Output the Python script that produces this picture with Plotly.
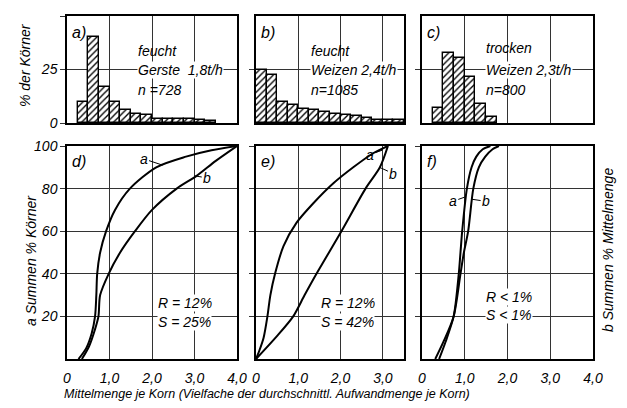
import plotly.graph_objects as go

# ---------------- data ----------------
bin_width = 0.25
# histograms (% der Körner), bins of 0.25 starting at given left edge
hist_a_start = 0.25
hist_a = [10, 40, 17, 10, 6, 4.4, 3.6, 2, 1.7, 1.7, 2, 1.5, 1]
hist_b_start = 0.0
hist_b = [25, 22.4, 9.8, 8.6, 6.7, 5.9, 5.1, 4.4, 3.6, 3.1, 2.5, 1.6, 1.6, 1.6]
hist_c_start = 0.25
hist_c = [7, 32.5, 30.5, 21.3, 9, 2.8]

# cumulative curves (Summen %)
d_a_x = [0.27, 0.45, 0.58, 0.66, 0.69, 0.71, 0.78, 0.92, 1.13, 1.48, 2.1, 2.8, 3.4, 4.0]
d_a_y = [0, 5, 12, 20, 30, 40, 50, 60, 70, 80, 90, 95, 98, 100]
d_b_x = [0.35, 0.52, 0.66, 0.74, 0.78, 0.98, 1.25, 1.6, 2.0, 2.58, 3.05, 3.5, 4.0]
d_b_y = [0, 6, 14, 20, 30, 40, 50, 60, 70, 80, 86, 93, 100]

e_a_x = [0, 0.08, 0.18, 0.27, 0.34, 0.45, 0.65, 0.96, 1.35, 1.83, 2.3, 2.77, 3.12]
e_a_y = [0, 4, 10, 20, 30, 40, 53, 64, 73, 82.5, 90, 96.6, 100]
e_b_x = [0, 0.49, 0.88, 1.15, 1.43, 2.02, 2.59, 2.93, 3.12]
e_b_y = [0, 10.6, 20, 30, 40, 60, 80, 90, 100]

f_a_x = [0.40, 0.55, 0.74, 0.86, 0.90, 0.94, 1.05, 1.16, 1.27, 1.42, 1.6]
f_a_y = [0, 8, 20, 40, 50, 60, 80, 90, 95, 98.5, 100]
f_b_x = [0.31, 0.50, 0.74, 0.90, 0.98, 1.08, 1.20, 1.33, 1.48, 1.65, 1.8]
f_b_y = [0, 8, 20, 40, 50, 60, 80, 90, 95, 98.5, 100]

x_tickvals = [0, 1, 2, 3, 4]
x_ticktext = ["0", "1,0", "2,0", "3,0", "4,0"]
y_top_tickvals = [0, 25, 50]
y_top_ticktext = ["0", "25", "50"]
y_bot_tickvals = [20, 40, 60, 80, 100]
y_bot_ticktext = ["20", "40", "60", "80", "100"]

panel_info_top = [
    ("a)", ["feucht", "Gerste  1,8t/h", "n =728"]),
    ("b)", ["feucht", "Weizen 2,4t/h", "n=1085"]),
    ("c)", ["trocken", "Weizen 2,3t/h", "n=800"]),
]
panel_info_bot = [
    ("d)", ["R = 12%", "S = 25%"]),
    ("e)", ["R = 12%", "S = 42%"]),
    ("f)", ["R < 1%", "S < 1%"]),
]

# ---------------- layout helpers ----------------
# the page body has an 8px default margin, so the figure is drawn 8px smaller
OFF = 8
W, H = 627 - OFF, 408 - OFF
FONT = "Liberation Sans, Arial, sans-serif"

def px_x(p):
    return (p - OFF) / W

def px_y(p):
    return 1 - (p - OFF) / H

col_px = [(67, 237, 4.0), (256, 404, 3.5), (422, 593, 4.0)]
top_px = (16, 123)
bot_px = (146, 359)

fig = go.Figure()

def bar_trace(start, heights, xa, ya):
    xs = [start + bin_width * (i + 0.5) for i in range(len(heights))]
    return go.Bar(
        x=xs, y=heights, width=bin_width, xaxis=xa, yaxis=ya,
        marker=dict(color="white",
                    line=dict(color="black", width=1.4),
                    pattern=dict(shape="/", fgcolor="black", bgcolor="white",
                                 size=4.5, solidity=0.3)),
        showlegend=False, hoverinfo="skip")

fig.add_trace(bar_trace(hist_a_start, hist_a, "x", "y"))
fig.add_trace(bar_trace(hist_b_start, hist_b, "x2", "y2"))
fig.add_trace(bar_trace(hist_c_start, hist_c, "x3", "y3"))

def curve(xs, ys, xa, ya):
    return go.Scatter(x=xs, y=ys, mode="lines", xaxis=xa, yaxis=ya,
                      line=dict(color="black", width=2, shape="spline", smoothing=0.8),
                      showlegend=False, hoverinfo="skip")

fig.add_trace(curve(d_a_x, d_a_y, "x4", "y4"))
fig.add_trace(curve(d_b_x, d_b_y, "x4", "y4"))
fig.add_trace(curve(e_a_x, e_a_y, "x5", "y5"))
fig.add_trace(curve(e_b_x, e_b_y, "x5", "y5"))
fig.add_trace(curve(f_a_x, f_a_y, "x6", "y6"))
fig.add_trace(curve(f_b_x, f_b_y, "x6", "y6"))

tickfont = dict(family=FONT, size=14, color="black", style="italic")
layout = dict(
    template="none",
    width=W, height=H, margin=dict(l=0, r=0, t=0, b=0, autoexpand=False),
    paper_bgcolor="white", plot_bgcolor="white",
    bargap=0, showlegend=False,
    font=dict(family=FONT, size=14, color="black", style="italic"),
)

axis_common = dict(showline=True, mirror=True, linecolor="black", linewidth=1.5,
                   gridcolor="#333333", gridwidth=1.2, zeroline=False,
                   tickfont=tickfont, fixedrange=True, automargin=False)

for i, (l, r, xmax) in enumerate(col_px):
    xn = "xaxis" if i == 0 else f"xaxis{i+1}"
    yn = "yaxis" if i == 0 else f"yaxis{i+1}"
    anchor_y = "y" if i == 0 else f"y{i+1}"
    anchor_x = "x" if i == 0 else f"x{i+1}"
    layout[xn] = dict(axis_common, domain=[px_x(l), px_x(r)], range=[0, xmax],
                      anchor=anchor_y, tickvals=[1, 2, 3], showticklabels=False,
                      ticks="", showgrid=True)
    layout[yn] = dict(axis_common, domain=[px_y(top_px[1]), px_y(top_px[0])],
                      range=[0, 50], anchor=anchor_x,
                      tickvals=y_top_tickvals if i == 0 else [25],
                      ticktext=y_top_ticktext if i == 0 else ["25"],
                      showticklabels=(i == 0), ticks="outside", ticklen=5,
                      tickcolor="#333333", showgrid=True)
    xn2 = f"xaxis{i+4}"
    yn2 = f"yaxis{i+4}"
    tv = [v for v in x_tickvals if v <= xmax]
    tt = [x_ticktext[k] for k, v in enumerate(x_tickvals) if v <= xmax]
    layout[xn2] = dict(axis_common, domain=[px_x(l), px_x(r)], range=[0, xmax],
                       anchor=f"y{i+4}", tickvals=tv, ticktext=tt, ticks="",
                       ticklabelstandoff=5, showgrid=True)
    layout[yn2] = dict(axis_common, domain=[px_y(bot_px[1]), px_y(bot_px[0])],
                       range=[0, 100], anchor=f"x{i+4}",
                       tickvals=y_bot_tickvals, ticktext=y_bot_ticktext,
                       showticklabels=(i == 0), ticks="outside", ticklen=5,
                       tickcolor="#333333", showgrid=True)

fig.update_layout(**layout)

ann = []
txtfont = dict(family=FONT, size=14, color="black", style="italic")
top_text_pos = [
    (1.65, [33.5, 24.8, 15.5]),
    (1.28, [33.5, 24.8, 15.5]),
    (1.47, [35, 24.8, 15.5]),
]
for i, (lbl, lines) in enumerate(panel_info_top):
    xa = "x" if i == 0 else f"x{i+1}"
    ya = "y" if i == 0 else f"y{i+1}"
    ann.append(dict(x=0.08, y=47, xref=xa, yref=ya, text=lbl, showarrow=False,
                    xanchor="left", yanchor="top", font=dict(txtfont, size=16)))
    x0, ys = top_text_pos[i]
    for j, t in enumerate(lines):
        ann.append(dict(x=x0, y=ys[j], xref=xa, yref=ya, text=t, showarrow=False,
                        xanchor="left", yanchor="middle", font=txtfont,
                        bgcolor="white" if j == 1 else None, borderpad=0))

bot_text_pos = [(2.12, [26.3, 17.4]), (1.51, [26.3, 17.4]), (1.47, [29, 20.7])]
for i, (lbl, lines) in enumerate(panel_info_bot):
    xa = f"x{i+4}"
    ya = f"y{i+4}"
    ann.append(dict(x=0.08, y=97.5, xref=xa, yref=ya, text=lbl, showarrow=False,
                    xanchor="left", yanchor="top", font=dict(txtfont, size=16)))
    x0, ys = bot_text_pos[i]
    for j, t in enumerate(lines):
        ann.append(dict(x=x0, y=ys[j], xref=xa, yref=ya, text=t, showarrow=False,
                        xanchor="left", yanchor="middle", font=txtfont,
                        bgcolor="white", borderpad=0))

curve_labels = [
    ("x4", "y4", "a", 1.8, 94, 2.25, 91),
    ("x4", "y4", "b", 3.3, 85, 3.0, 86),
    ("x5", "y5", "a", 2.7, 96, 2.98, 98),
    ("x5", "y5", "b", 3.25, 87, 2.92, 90),
    ("x6", "y6", "a", 0.72, 74, 1.0, 76),
    ("x6", "y6", "b", 1.5, 74, 1.17, 75),
]
for xa, ya, t, tx, ty, px, py in curve_labels:
    ann.append(dict(x=px, y=py, ax=tx, ay=ty, xref=xa, yref=ya, axref=xa, ayref=ya,
                    text=t, showarrow=True, arrowhead=0, arrowwidth=1,
                    arrowcolor="black", font=txtfont, standoff=0, startstandoff=0))

title_font = dict(txtfont, size=14)
ann.append(dict(x=px_x(25), y=px_y(65), xref="paper", yref="paper", text="% der Körner",
                textangle=-90, showarrow=False, xanchor="center", yanchor="middle",
                font=title_font))
ann.append(dict(x=px_x(31), y=px_y(261), xref="paper", yref="paper", text="a Summen % Körner",
                textangle=-90, showarrow=False, xanchor="center", yanchor="middle",
                font=title_font))
ann.append(dict(x=px_x(608), y=px_y(250), xref="paper", yref="paper", text="b Summen % Mittelmenge",
                textangle=-90, showarrow=False, xanchor="center", yanchor="middle",
                font=title_font))
ann.append(dict(x=px_x(267), y=px_y(394), xref="paper", yref="paper",
                text="Mittelmenge je Korn (Vielfache der durchschnittl. Aufwandmenge je Korn)",
                showarrow=False, xanchor="center", yanchor="middle",
                font=dict(txtfont, size=12.5)))

fig.update_layout(annotations=ann)
fig.write_html("out.html")
